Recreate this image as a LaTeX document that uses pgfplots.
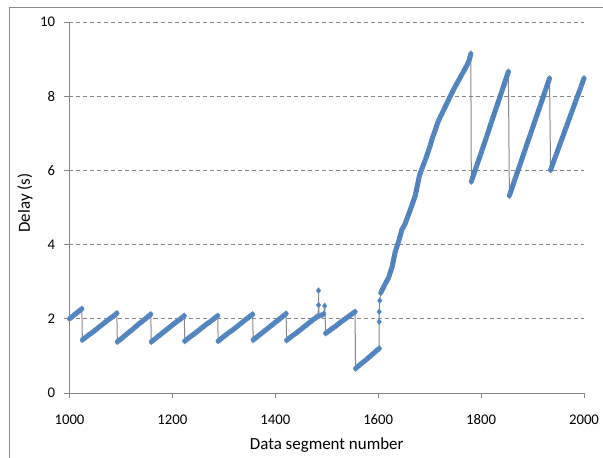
\documentclass[border=0pt]{standalone}
\usepackage{pgfplots}
\pgfplotsset{compat=1.18}
\usepackage{pgfplotstable}
\usepackage{fontspec}
\setmainfont{Carlito}

\definecolor{seriesblue}{RGB}{79,129,189}
\definecolor{axisgray}{RGB}{134,134,134}
\definecolor{linkgray}{RGB}{135,135,135}
\definecolor{framegray}{RGB}{140,140,140}

% Delay per data segment; "nan" rows separate the rising runs
\pgfplotstableread{
x y
1000 2.00
1008 2.09
1016 2.18
1024 2.27
1024 nan
1025 1.43
1035 1.54
1045 1.64
1055 1.75
1065 1.86
1075 1.97
1085 2.07
1092 2.15
1092 nan
1093 1.38
1103 1.49
1113 1.61
1123 1.72
1133 1.84
1143 1.95
1151 2.04
1158 2.12
1158 nan
1159 1.38
1169 1.49
1179 1.60
1189 1.71
1199 1.82
1209 1.93
1217 2.01
1223 2.08
1223 nan
1224 1.40
1234 1.51
1244 1.61
1254 1.72
1264 1.83
1274 1.93
1282 2.02
1288 2.08
1288 nan
1289 1.40
1299 1.51
1309 1.62
1319 1.72
1329 1.83
1339 1.94
1349 2.05
1356 2.12
1356 nan
1357 1.43
1367 1.54
1377 1.65
1387 1.76
1397 1.87
1407 1.98
1415 2.07
1421 2.14
1421 nan
1422 1.42
1432 1.53
1442 1.63
1452 1.74
1462 1.85
1472 1.96
1479 2.03
1483 2.07
1483 nan
1484 2.37
1484 nan
1484 2.76
1484 nan
1485 2.08
1490 2.10
1494 2.13
1494 nan
1496 2.35
1496 nan
1498 1.61
1508 1.71
1518 1.81
1528 1.92
1538 2.02
1548 2.12
1555 2.19
1555 nan
1556 0.66
1566 0.78
1576 0.89
1586 1.01
1596 1.13
1602 1.20
1602 nan
1602 1.92
1602 nan
1602 2.19
1602 nan
1603 2.49
1603 nan
1605 2.70
1612 2.90
1620 3.10
1627 3.40
1633 3.80
1640 4.10
1646 4.40
1652 4.55
1656 4.70
1664 5.00
1672 5.32
1680 5.85
1685 6.05
1692 6.30
1700 6.62
1706 6.90
1711 7.09
1716 7.30
1721 7.45
1727 7.62
1734 7.82
1740 8.00
1748 8.22
1756 8.42
1764 8.62
1772 8.82
1777 8.98
1780 9.14
1780 nan
1781 5.70
1790 6.07
1800 6.47
1810 6.88
1820 7.30
1830 7.71
1840 8.12
1848 8.45
1853 8.66
1853 nan
1855 5.32
1865 5.73
1875 6.13
1885 6.54
1895 6.94
1905 7.35
1915 7.75
1925 8.16
1933 8.48
1933 nan
1935 6.01
1945 6.39
1955 6.77
1965 7.15
1975 7.53
1985 7.91
1993 8.21
2000 8.48
}\delaydata

\begin{document}
\begin{tikzpicture}
\useasboundingbox (-69.5bp,-65bp) rectangle (533.5bp,393bp);
\draw[framegray, line width=0.75bp] (-60.5bp,-70bp) -- (-60.5bp,386bp) -- (540bp,386bp);
\begin{axis}[
  scale only axis,
  width=514.5bp, height=371bp,
  xmin=1000, xmax=2000, ymin=0, ymax=10,
  xtick={1000,1200,...,2000},
  ytick={0,2,...,10},
  axis x line*=bottom, axis y line*=left,
  axis line style={draw=axisgray, line width=0.75bp},
  tick align=outside,
  major tick length=5bp,
  tick style={draw=axisgray, line width=0.75bp},
  ymajorgrids,
  grid style={axisgray, line width=0.75bp, dash pattern=on 4bp off 3bp},
  /pgf/number format/1000 sep={},
  /pgf/number format/assume math mode=true,
  ticklabel style={font=\fontsize{14.8}{16}\selectfont, text=black},
  xticklabel style={yshift=-13bp},
  yticklabel style={xshift=-6bp},
  xlabel={Data segment number},
  ylabel={Delay (s)},
  label style={font=\fontsize{17}{20}\selectfont, text=black},
  xlabel style={at={(axis description cs:0.5,-0.1402)}, anchor=center},
  ylabel style={at={(axis description cs:-0.0865,0.512)}, anchor=center},
  clip=false,
]
\addplot[linkgray, line width=1bp, unbounded coords=discard] table {\delaydata};
\addplot[seriesblue, line width=5bp, line cap=round, line join=round, unbounded coords=jump] table {\delaydata};
\addplot[only marks, mark=diamond*, mark size=3bp,
  mark options={fill=seriesblue, draw=seriesblue!85!white, line width=0.4bp}] table {\delaydata};
\end{axis}
\end{tikzpicture}
\end{document}
